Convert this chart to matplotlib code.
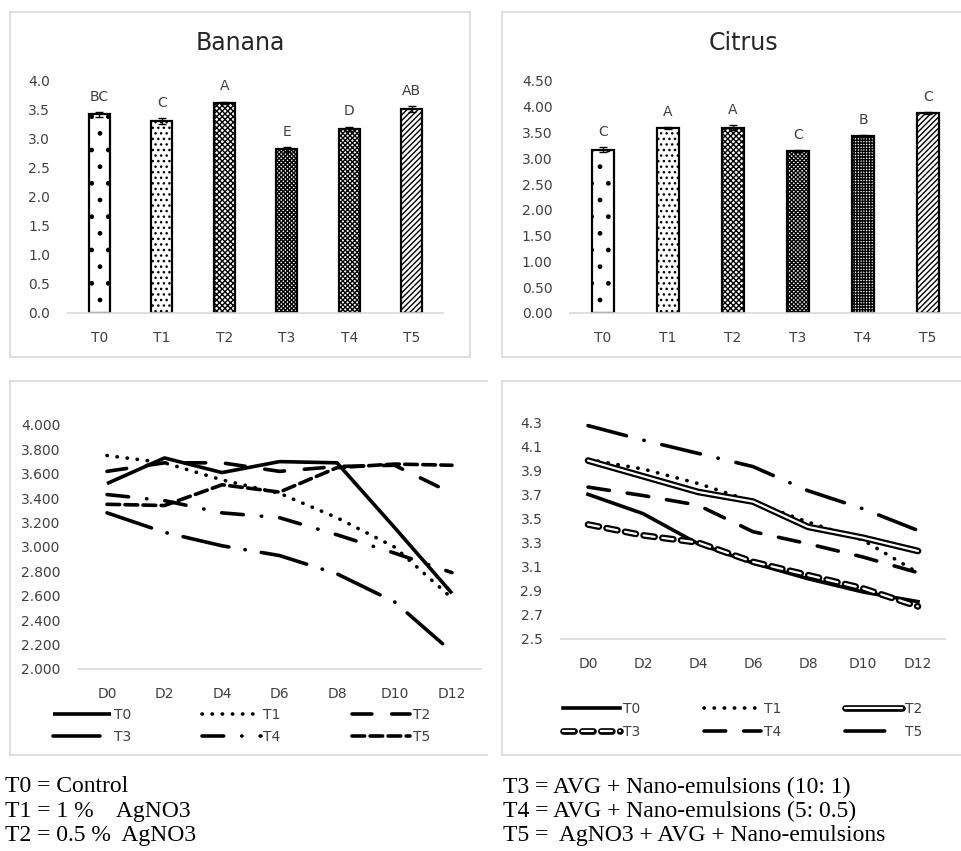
import matplotlib
matplotlib.use('Agg')
import matplotlib.pyplot as plt
from matplotlib.lines import Line2D
import matplotlib.patheffects as pe

# ---- data ----
treatments = ['T0', 'T1', 'T2', 'T3', 'T4', 'T5']

banana_mean = [3.41, 3.30, 3.61, 2.81, 3.16, 3.50]
banana_err = [0.04, 0.05, 0.02, 0.04, 0.04, 0.05]
banana_letters = ['BC', 'C', 'A', 'E', 'D', 'AB']

citrus_mean = [3.17, 3.59, 3.59, 3.14, 3.43, 3.88]
citrus_err = [0.05, 0.02, 0.05, 0.02, 0.02, 0.02]
citrus_letters = ['C', 'A', 'A', 'C', 'B', 'C']

days = ['D0', 'D2', 'D4', 'D6', 'D8', 'D10', 'D12']

banana_days = {
    'T0': [3.52, 3.73, 3.61, 3.70, 3.69, 3.16, 2.62],
    'T1': [3.75, 3.69, 3.55, 3.44, 3.24, 3.00, 2.58],
    'T2': [3.62, 3.69, 3.69, 3.62, 3.66, 3.67, 3.44],
    'T3': [3.28, 3.12, 3.01, 2.93, 2.78, 2.55, 2.14],
    'T4': [3.43, 3.38, 3.28, 3.24, 3.10, 2.95, 2.79],
    'T5': [3.35, 3.34, 3.51, 3.45, 3.65, 3.68, 3.67],
}

citrus_days = {
    'T0': [3.70, 3.54, 3.29, 3.13, 3.00, 2.89, 2.81],
    'T1': [3.99, 3.91, 3.79, 3.64, 3.47, 3.32, 3.05],
    'T2': [3.98, 3.85, 3.72, 3.64, 3.43, 3.34, 3.23],
    'T3': [3.45, 3.36, 3.30, 3.14, 3.03, 2.92, 2.77],
    'T4': [3.76, 3.69, 3.61, 3.39, 3.29, 3.18, 3.05],
    'T5': [4.27, 4.15, 4.04, 3.93, 3.73, 3.58, 3.40],
}

notes_left = ['T0 = Control', 'T1 = 1 %    AgNO3', 'T2 = 0.5 %  AgNO3']
notes_right = ['T3 = AVG + Nano-emulsions (10: 1)',
               'T4 = AVG + Nano-emulsions (5: 0.5)',
               'T5 =  AgNO3 + AVG + Nano-emulsions']

banana_hatch = ['.', '...', 'xxxxxx', 'xxxxxxxx', 'xxxxxxx', '//////']
citrus_hatch = ['.', '...', 'xxxxxx', 'xxxxxxxx', '++++++', '//////']

W, H = 962, 851
TXT = '#404040'
GRID = '#d9d9d9'
plt.rcParams['font.family'] = ['DejaVu Sans']
plt.rcParams['hatch.linewidth'] = 1.0

fig = plt.figure(figsize=(W / 100, H / 100), dpi=100)


def px_axes(x0, y_top, x1, y_bot):
    return fig.add_axes([x0 / W, 1 - y_bot / H, (x1 - x0) / W, (y_bot - y_top) / H])


def hline(x0, x1, y):
    fig.add_artist(Line2D([x0 / W, x1 / W], [1 - y / H, 1 - y / H], color=GRID, lw=1.2))


def vline(x, y0, y1):
    fig.add_artist(Line2D([x / W, x / W], [1 - y0 / H, 1 - y1 / H], color=GRID, lw=1.2))


# panel borders
hline(10, 470, 12); hline(10, 470, 357); vline(10, 12, 357); vline(470, 12, 357)
hline(502, 962, 12); hline(502, 962, 357); vline(502, 12, 357)
hline(10, 487, 381); hline(10, 487, 755); vline(10, 381, 755)
hline(502, 962, 381); hline(502, 962, 755); vline(502, 381, 755)


def style_axes(ax):
    for s in ['top', 'right', 'left']:
        ax.spines[s].set_visible(False)
    ax.spines['bottom'].set_color(GRID)
    ax.spines['bottom'].set_linewidth(1.2)
    ax.tick_params(length=0, labelsize=10, labelcolor=TXT, pad=13)
    ax.patch.set_alpha(0)


def bar_panel(ax, means, errs, letters, hatches, ymax, fmt):
    x = range(len(treatments))
    bars = ax.bar(x, means, width=0.34, color='white', edgecolor='black', linewidth=1.6,
                  yerr=errs, error_kw=dict(ecolor='black', elinewidth=1, capsize=3, capthick=1))
    for b, h in zip(bars, hatches):
        b.set_hatch(h)
    for i, (m, e, l) in enumerate(zip(means, errs, letters)):
        ax.annotate(l, (i, m + e), xytext=(0, 6), textcoords='offset points',
                    ha='center', va='bottom', fontsize=10, color=TXT)
    ax.set_xlim(-0.5, len(treatments) - 0.5)
    ax.set_ylim(0, ymax)
    ax.set_xticks(list(x))
    ax.set_xticklabels(treatments)
    ax.set_yticks([i * 0.5 for i in range(int(ymax / 0.5) + 1)])
    ax.set_yticklabels([fmt % (i * 0.5) for i in range(int(ymax / 0.5) + 1)])
    style_axes(ax)


ax1 = px_axes(68, 80, 443, 313)
bar_panel(ax1, banana_mean, banana_err, banana_letters, banana_hatch, 4.0, '%.1f')
fig.text(240 / W, 1 - 43 / H, 'Banana', ha='center', va='center', fontsize=17, color='#262626')

ax2 = px_axes(570.5, 81, 960.5, 313)
bar_panel(ax2, citrus_mean, citrus_err, citrus_letters, citrus_hatch, 4.5, '%.2f')
fig.text(743 / W, 1 - 43 / H, 'Citrus', ha='center', va='center', fontsize=17, color='#262626')

LW = 2.6

# banana line styles
banana_styles = {
    'T0': (0, ()),
    'T1': (0, (0.1, 2.7)),
    'T2': (0, (5.5, 5.5)),
    'T3': (0, (13, 4.5, 0.1, 4.5)),
    'T4': (0, (6, 5, 0.1, 5)),
    'T5': (0, (3.5, 1.5)),
}

ax3 = px_axes(78.25, 425, 480.75, 669)
handles = {}
for t in treatments:
    ls = '-' if t == 'T0' else banana_styles[t]
    ln, = ax3.plot(range(len(days)), banana_days[t], color='black', lw=LW,
                   dash_capstyle='round', solid_capstyle='butt', label=t, linestyle=ls)
    handles[t] = ln
ax3.set_xlim(-0.5, len(days) - 0.5)
ax3.set_ylim(2.0, 4.0)
ax3.set_xticks(range(len(days)))
ax3.set_xticklabels(days)
ax3.set_yticks([2.0 + 0.2 * i for i in range(11)])
ax3.set_yticklabels(['%.3f' % (2.0 + 0.2 * i) for i in range(11)])
style_axes(ax3)
order = ['T0', 'T3', 'T1', 'T4', 'T2', 'T5']
fig.legend([handles[t] for t in order], order, loc='upper left',
           bbox_to_anchor=(53 / W, 1 - 708 / H), ncol=3, frameon=False,
           fontsize=10, handlelength=4.2, handletextpad=0.2, columnspacing=5.1,
           labelspacing=0.6, borderpad=0, borderaxespad=0, labelcolor=TXT)

# citrus line styles
double = [pe.Stroke(linewidth=4.8, foreground='black'), pe.Normal()]
ax4 = px_axes(560.5, 422, 945.5, 639)
handles = {}
x = range(len(days))
handles['T0'], = ax4.plot(x, citrus_days['T0'], color='black', lw=LW, label='T0')
handles['T1'], = ax4.plot(x, citrus_days['T1'], color='black', lw=LW, ls=(0, (0.1, 2.7)),
                          dash_capstyle='round', label='T1')
handles['T2'], = ax4.plot(x, citrus_days['T2'], color='white', lw=1.6, path_effects=double,
                          solid_capstyle='round', label='T2')
handles['T3'], = ax4.plot(x, citrus_days['T3'], color='white', lw=1.6, ls=(0, (5, 3.5)),
                          dash_capstyle='round', path_effects=double, label='T3')
handles['T4'], = ax4.plot(x, citrus_days['T4'], color='black', lw=LW, ls=(0, (6, 5)),
                          dash_capstyle='round', label='T4')
handles['T5'], = ax4.plot(x, citrus_days['T5'], color='black', lw=LW, ls=(0, (11, 5, 0.1, 5)),
                          dash_capstyle='round', label='T5')
ax4.set_xlim(-0.5, len(days) - 0.5)
ax4.set_ylim(2.5, 4.3)
ax4.set_xticks(list(x))
ax4.set_xticklabels(days)
ax4.set_yticks([2.5 + 0.2 * i for i in range(10)])
ax4.set_yticklabels(['%.1f' % (2.5 + 0.2 * i) for i in range(10)])
style_axes(ax4)
fig.legend([handles[t] for t in order], order, loc='upper left',
           bbox_to_anchor=(563 / W, 1 - 702 / H), ncol=3, frameon=False,
           fontsize=10, handlelength=4.1, handletextpad=0.2, columnspacing=4.6,
           labelspacing=0.65, borderpad=0, borderaxespad=0, labelcolor=TXT)

# footnote
for i, s in enumerate(notes_left):
    fig.text(5 / W, 1 - (787 + 24 * i) / H, s, ha='left', va='center',
             fontsize=17, family='Liberation Serif', color='black')
for i, s in enumerate(notes_right):
    fig.text(503 / W, 1 - (787 + 24 * i) / H, s, ha='left', va='center',
             fontsize=17, family='Liberation Serif', color='black')

fig.savefig('out.png', dpi=100)
